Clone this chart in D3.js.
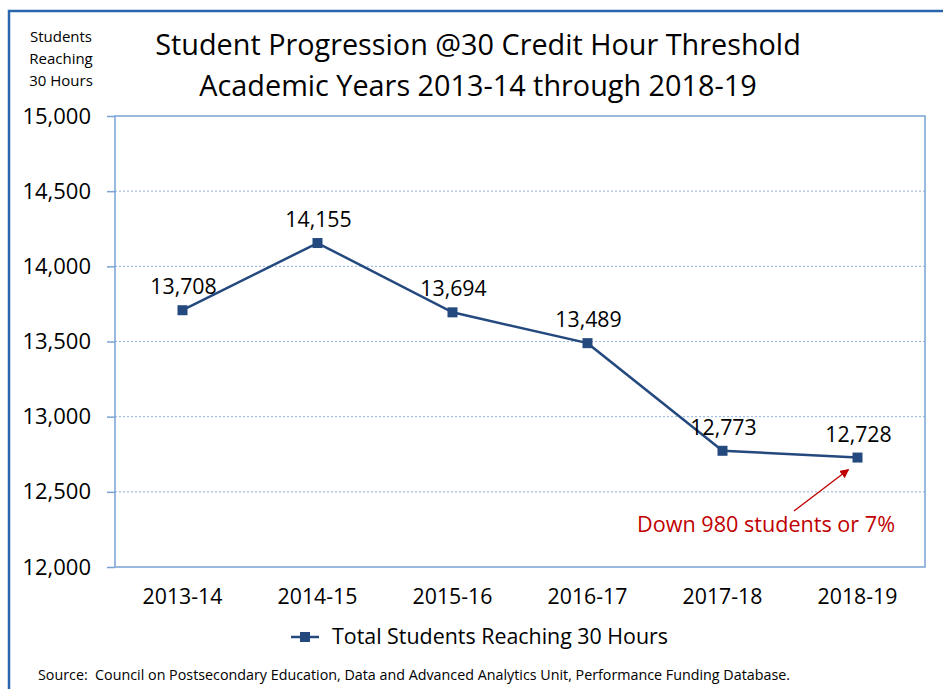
<!DOCTYPE html>
<html>
<head>
<meta charset="utf-8">
<script src="https://cdn.jsdelivr.net/npm/d3@7"></script>
<style>
  body { margin: 0; background: #fff; }
  svg text { font-family: "Open Sans", "Noto Sans", sans-serif; fill: #000; white-space: pre; }
</style>
</head>
<body>
<svg id="chart" width="943" height="689"></svg>
<script>
// chart data
var years = ["2013-14", "2014-15", "2015-16", "2016-17", "2017-18", "2018-19"];
var students = [13708, 14155, 13694, 13489, 12773, 12728];
var yTicks = [12000, 12500, 13000, 13500, 14000, 14500, 15000];
var seriesName = "Total Students Reaching 30 Hours";
var titleLines = ["Student Progression @30 Credit Hour Threshold", "Academic Years 2013-14 through 2018-19"];
var yTitleLines = ["Students", "Reaching", "30 Hours"];
var note = "Down 980 students or 7%";
var source = "Source:  Council on Postsecondary Education, Data and Advanced Analytics Unit, Performance Funding Database.";

var svg = d3.select("#chart"),
    lineColor = "#24497e",
    frameColor = "#7aa2d4";

var plot = { left: 115, top: 116, right: 925, bottom: 567 };

var x = d3.scaleBand().domain(years).range([plot.left, plot.right]);
var y = d3.scaleLinear().domain([12000, 15000]).range([plot.bottom, plot.top]);

// outer frame (only top / left visible in the picture)
svg.append("rect")
    .attr("x", 9).attr("y", 11)
    .attr("width", 960).attr("height", 720)
    .attr("fill", "none")
    .attr("stroke", "#2b65ad")
    .attr("stroke-width", 2.5);

// arrow head
svg.append("defs").append("marker")
    .attr("id", "arrow")
    .attr("viewBox", "0 0 10 10")
    .attr("refX", 9).attr("refY", 5)
    .attr("markerWidth", 7).attr("markerHeight", 7)
    .attr("orient", "auto")
  .append("path")
    .attr("d", "M0,0 L10,5 L0,10 z")
    .attr("fill", "#c00000");

// titles
svg.selectAll(".title")
    .data(titleLines)
  .enter().append("text")
    .attr("class", "title")
    .attr("x", 478)
    .attr("y", function (d, i) { return 55 + i * 41; })
    .attr("text-anchor", "middle")
    .style("font-size", "28.8px")
    .text(function (d) { return d; });

svg.selectAll(".ytitle")
    .data(yTitleLines)
  .enter().append("text")
    .attr("class", "ytitle")
    .attr("x", 61)
    .attr("y", function (d, i) { return 42 + i * 22; })
    .attr("text-anchor", "middle")
    .style("font-size", "15px")
    .text(function (d) { return d; });

// gridlines
svg.append("g")
    .selectAll("line")
    .data(yTicks.filter(function (t) { return t > 12000 && t < 15000; }))
  .enter().append("line")
    .attr("x1", plot.left).attr("x2", plot.right)
    .attr("y1", function (d) { return y(d); })
    .attr("y2", function (d) { return y(d); })
    .attr("stroke", "#8fb0dc")
    .attr("stroke-width", 1)
    .attr("stroke-dasharray", "2,2");

// plot frame
svg.append("rect")
    .attr("x", plot.left).attr("y", plot.top)
    .attr("width", plot.right - plot.left)
    .attr("height", plot.bottom - plot.top)
    .attr("fill", "none")
    .attr("stroke", frameColor)
    .attr("stroke-width", 1.5);

// y axis
var yAxis = svg.append("g")
    .attr("transform", "translate(" + plot.left + ",0)")
    .call(d3.axisLeft(y).tickValues(yTicks).tickSize(8).tickPadding(16).tickFormat(d3.format(",")));
yAxis.select(".domain").remove();
yAxis.selectAll(".tick line").attr("stroke", frameColor).attr("stroke-width", 1.5);
yAxis.selectAll(".tick text")
    .style("font-size", "22px")
    .style("font-family", "'Open Sans', sans-serif")
    .attr("fill", "#000");

// x axis labels
var xAxis = svg.append("g")
    .attr("transform", "translate(0," + plot.bottom + ")")
    .call(d3.axisBottom(x).tickSize(0).tickPadding(22));
xAxis.select(".domain").remove();
xAxis.selectAll(".tick text")
    .style("font-size", "21.3px")
    .style("font-family", "'Open Sans', sans-serif")
    .attr("fill", "#000");

// series line
var pts = years.map(function (d, i) { return { year: d, value: students[i] }; });
var line = d3.line()
    .x(function (d) { return x(d.year) + x.bandwidth() / 2; })
    .y(function (d) { return y(d.value); });

svg.append("path")
    .datum(pts)
    .attr("d", line)
    .attr("fill", "none")
    .attr("stroke", lineColor)
    .attr("stroke-width", 2.5);

svg.selectAll(".marker")
    .data(pts)
  .enter().append("rect")
    .attr("class", "marker")
    .attr("x", function (d) { return x(d.year) + x.bandwidth() / 2 - 5; })
    .attr("y", function (d) { return y(d.value) - 5; })
    .attr("width", 10).attr("height", 10)
    .attr("fill", lineColor);

svg.selectAll(".vlabel")
    .data(pts)
  .enter().append("text")
    .attr("class", "vlabel")
    .attr("x", function (d) { return x(d.year) + x.bandwidth() / 2 + 1; })
    .attr("y", function (d) { return y(d.value) - 16; })
    .attr("text-anchor", "middle")
    .style("font-size", "21.3px")
    .text(function (d) { return d3.format(",")(d.value); });

// annotation
svg.append("line")
    .attr("x1", 794).attr("y1", 511)
    .attr("x2", x("2018-19") + x.bandwidth() / 2 - 9)
    .attr("y2", y(students[5]) + 12)
    .attr("stroke", "#c00000")
    .attr("stroke-width", 1.3)
    .attr("marker-end", "url(#arrow)");

svg.append("text")
    .attr("x", 895)
    .attr("y", 532)
    .attr("text-anchor", "end")
    .style("font-size", "21.6px")
    .style("fill", "#c00000")
    .text(note);

// legend
var lg = svg.append("g").attr("transform", "translate(291,637)");
lg.append("line")
    .attr("x1", 0).attr("x2", 28)
    .attr("stroke", lineColor).attr("stroke-width", 2.5);
lg.append("rect")
    .attr("x", 9).attr("y", -5).attr("width", 10).attr("height", 10)
    .attr("fill", lineColor);
lg.append("text")
    .attr("x", 41).attr("y", 7)
    .style("font-size", "21.4px")
    .text(seriesName);

// source
svg.append("text")
    .attr("x", 38).attr("y", 680)
    .style("font-size", "14.3px")
    .text(source);
</script>
</body>
</html>
